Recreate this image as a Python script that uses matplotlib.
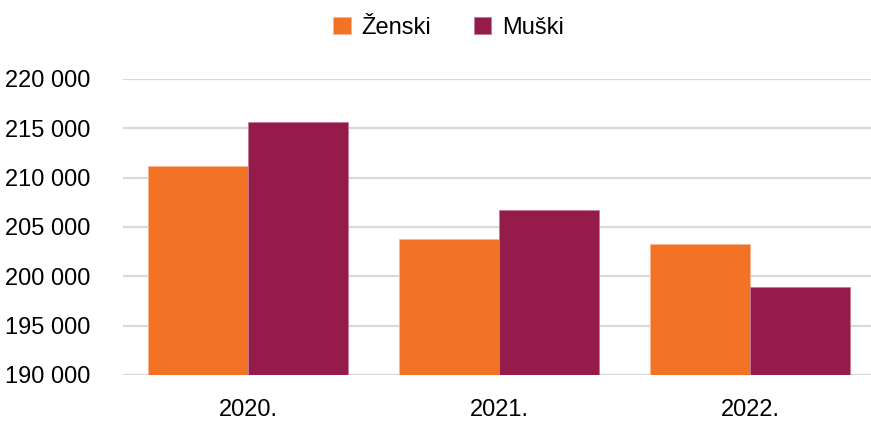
import matplotlib.pyplot as plt
import matplotlib.ticker as mticker
import numpy as np

plt.rcParams['font.family'] = ['Liberation Sans', 'DejaVu Sans']

years = ["2020.", "2021.", "2022."]
zenski = [211150, 203810, 203280]
muski = [215610, 206690, 198950]
series_labels = ["Ženski", "Muški"]
colors = ["#F27226", "#951C4A"]

fig = plt.figure(figsize=(8.71, 4.30), dpi=100)
ax = fig.add_axes([122.5 / 871, 55 / 430, 753 / 871, 296 / 430])

x = np.arange(len(years))
w = 0.4
ax.bar(x - w / 2, zenski, w, color=colors[0], label=series_labels[0],
       edgecolor="#f9b58f", linewidth=0.6, zorder=3)
ax.bar(x + w / 2, muski, w, color=colors[1], label=series_labels[1],
       edgecolor="#c27a96", linewidth=0.6, zorder=3)

ax.set_xlim(-0.5, 2.5)
ax.set_ylim(190000, 220000)
ax.yaxis.set_major_locator(mticker.MultipleLocator(5000))
ax.yaxis.set_major_formatter(
    mticker.FuncFormatter(lambda v, p: f"{int(v):,}".replace(",", " ")))
ax.set_xticks(x)
ax.set_xticklabels(years)

ax.grid(axis="y", color="#d9d9d9", linewidth=1.6, zorder=0)
ax.set_axisbelow(True)
for s in ax.spines.values():
    s.set_visible(False)
ax.tick_params(axis="both", length=0, labelsize=17, colors="black")
ax.tick_params(axis="y", pad=23)
ax.tick_params(axis="x", pad=17)

fig.legend(loc="upper center", bbox_to_anchor=(0.515, 1.0), ncol=2,
           frameon=False, fontsize=17, handlelength=0.75, handleheight=0.75,
           handletextpad=0.45, columnspacing=1.8, borderaxespad=0.3)

fig.savefig("out.png", dpi=100)
